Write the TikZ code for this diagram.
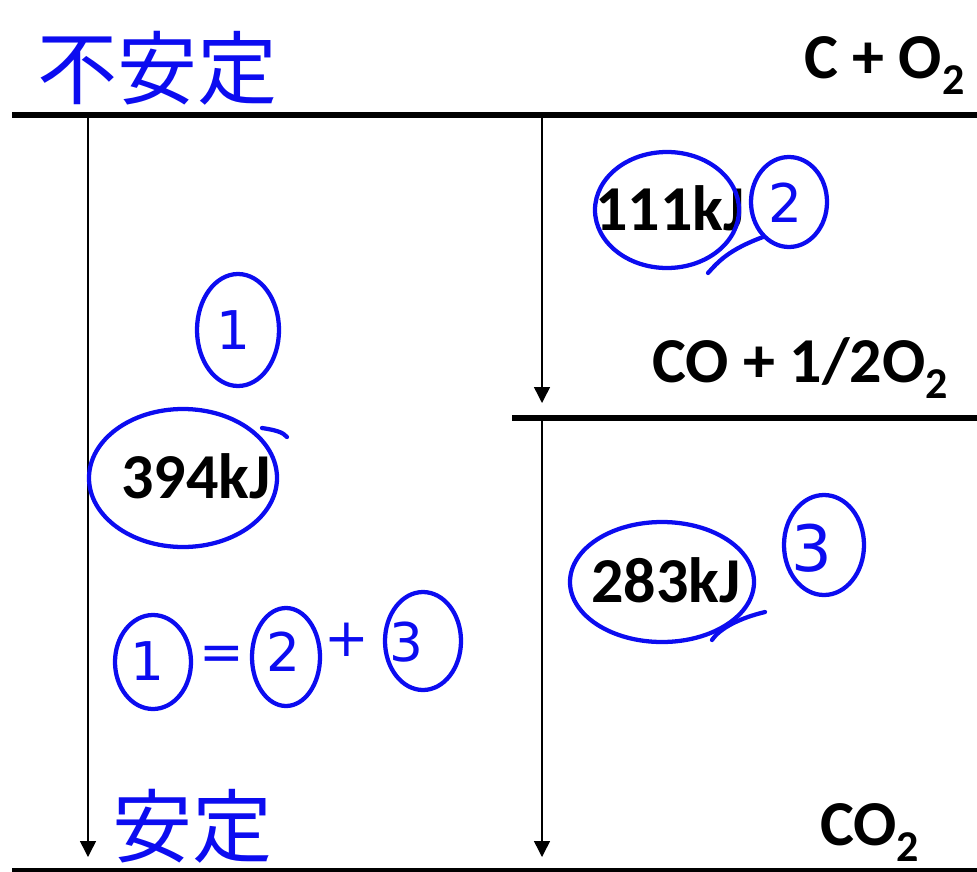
\documentclass[tikz,border=0pt]{standalone}
\usepackage{fontspec}
\setmainfont{Carlito}
\newfontfamily\cjk{Noto Sans CJK JP}
\newfontfamily\hand{DejaVu Sans}
\usetikzlibrary{arrows.meta}
\definecolor{ink}{RGB}{12,12,240}
\newcommand\mysub[1]{\raisebox{-0.26em}{\fontsize{33}{33}\selectfont #1}}
\tikzset{
  level/.style={line width=4.5pt, line cap=butt},
  conn/.style={line width=1.1pt, -{Triangle[width=12pt,length=12pt]}},
  chem/.style={font=\fontsize{48}{52}\selectfont\bfseries, inner sep=0pt, anchor=base west},
  hw/.style={draw=ink, line width=3.2pt, line cap=round, line join=round},
  hwcjk/.style={text=ink, font=\cjk\fontsize{60}{62}\selectfont, inner sep=0pt},
  hwnum/.style={text=ink, font=\hand\fontsize{40}{40}\selectfont, inner sep=0pt}
}
\begin{document}
\begin{tikzpicture}[x=0.75pt,y=-0.75pt]
\useasboundingbox (0,0) rectangle (977,871);
% level lines
\coordinate (t0) at (12,115);
\coordinate (t1) at (977,115);
\coordinate (m0) at (512,418);
\coordinate (m1) at (977,418);
\coordinate (b0) at (12,871);
\coordinate (b1) at (977,871);
\draw[level] (t0) -- (t1);
\draw[level] (m0) -- (m1);
\draw[level] (b0) -- (b1);
% arrows
\coordinate (a0) at (88,118);
\coordinate (a1) at (88,857);
\coordinate (r0) at (542,118);
\coordinate (r1) at (542,403);
\coordinate (s0) at (542,421);
\coordinate (s1) at (542,857);
\draw[conn] (a0) -- (a1);
\draw[conn] (r0) -- (r1);
\draw[conn] (s0) -- (s1);
% species labels
\node[chem] (co2top) at (804,78) {C + O\mysub{2}};
\node[chem] (coh) at (652,382) {CO + 1/2O\mysub{2}};
\node[chem] (co2) at (820,845) {CO\mysub{2}};
% energies
\node[chem] (e111) at (595,230) {111kJ};
\node[chem] (e394) at (121,498) {394kJ};
\node[chem] (e283) at (591,602) {283kJ};
% handwritten notes
\node[hwcjk] (unstable) at (157,68) {不安定};
\node[hwcjk] (stable) at (192,826) {安定};
% circles round energies
\draw[hw] (667,210) ellipse [x radius=72, y radius=58];
\draw[hw] (708,273) .. controls (718,262) and (728,250) .. (763,237);
\draw[hw] (183,478) ellipse [x radius=94, y radius=69];
\draw[hw] (262,428) .. controls (275,430) and (283,432) .. (287,437);
\draw[hw] (662,582) ellipse [x radius=92, y radius=60];
\draw[hw] (712,640) .. controls (720,628) and (740,618) .. (765,612);
% circled numbers
\draw[hw] (238,330) ellipse [x radius=41, y radius=56];
\node[hwnum] (n1) at (233,330) {1};
\draw[hw] (789,202) ellipse [x radius=38, y radius=45];
\node[hwnum] (n2) at (785,203) {2};
\draw[hw] (824,545) ellipse [x radius=40, y radius=50];
\node[hwnum, scale=1.2] (n3) at (812,548) {3};
% equation
\draw[hw] (153,662) ellipse [x radius=38, y radius=47];
\node[hwnum] (q1) at (147,661) {1};
\node[hwnum] (qe) at (222,658) {=};
\draw[hw] (286,657) ellipse [x radius=34, y radius=49];
\node[hwnum] (q2) at (283,652) {2};
\node[hwnum] (qp) at (347,640) {+};
\draw[hw] (423,641) ellipse [x radius=38, y radius=49];
\node[hwnum] (q3) at (406,642) {3};
\end{tikzpicture}
\end{document}
